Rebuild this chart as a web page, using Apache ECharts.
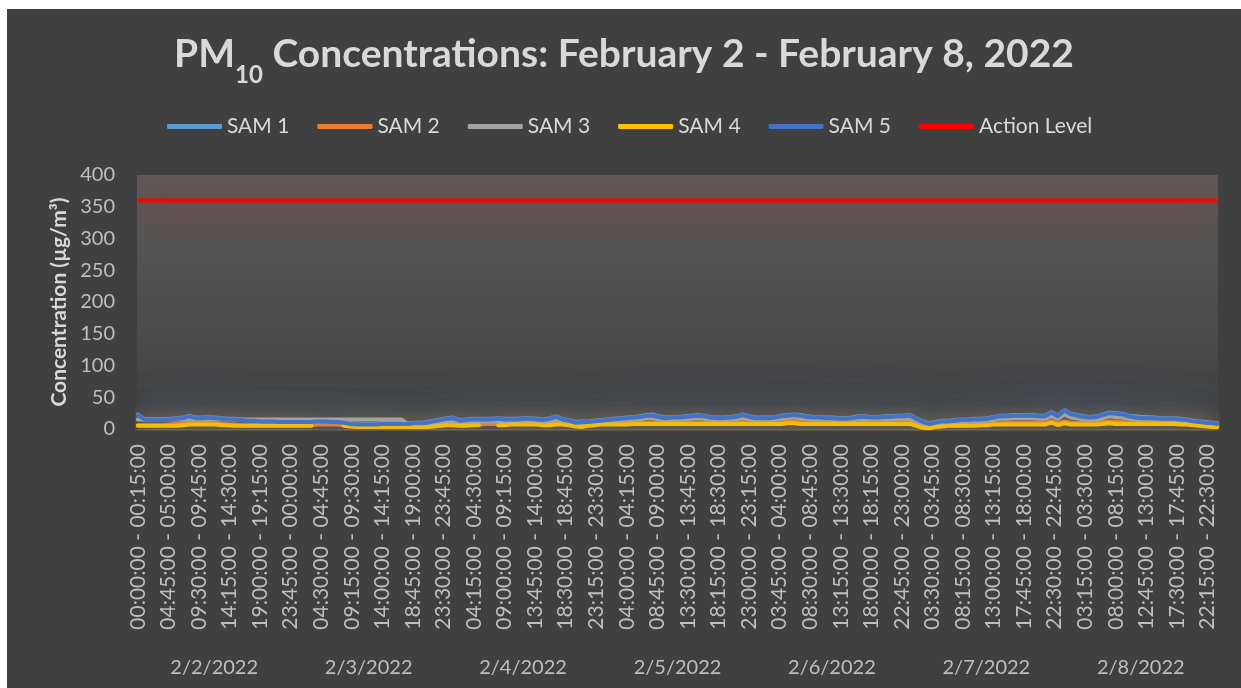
<!DOCTYPE html>
<html>
<head>
<meta charset="utf-8">
<script src="https://cdn.jsdelivr.net/npm/echarts@6/dist/echarts.min.js"></script>
<style>
  html, body { margin: 0; padding: 0; background: #fff; }
  #chart { position: absolute; left: 7px; top: 9px; width: 1234px; height: 679px; background: #404040; }
</style>
</head>
<body>
<div id="chart"></div>
<script>
const days = ['2/2/2022', '2/3/2022', '2/4/2022', '2/5/2022', '2/6/2022', '2/7/2022', '2/8/2022'];
const seriesNames = ['SAM 1', 'SAM 2', 'SAM 3', 'SAM 4', 'SAM 5', 'Action Level'];
const actionLevel = [360, 360];

// readings at the start of every hour (µg/m3), last value = final 15 min of 2/8
const sam1 = [
  23,16,15,15,15,16,17,18,21,18,18,19,18,17,16,16,15,14,14,13,13,13,12,12,
  12,12,12,12,13,13,12,12,11,9,8,8,8,8,9,9,9,9,9,10,10,11,13,15,
  17,18,14,15,16,16,16,16,17,16,16,16,17,17,16,15,17,20,16,14,11,12,12,13,
  14,15,16,17,18,19,20,22,23,20,18,19,19,20,21,22,21,19,18,18,19,20,23,20,
  18,18,18,19,21,22,23,22,20,19,19,18,18,17,17,18,20,20,19,19,20,20,21,21,
  22,17,12,9,11,13,13,14,15,15,16,16,17,19,21,21,22,22,22,22,21,21,27,21,
  30,24,22,20,19,20,23,26,25,24,21,20,19,19,18,17,17,17,16,15,13,12,11,10,
  9
];
const sam2 = [
  6,6,6,6,6,7,8,9,10,10,10,10,9,8,7,7,6,6,6,6,6,6,6,6,
  6,6,6,6,7,7,7,7,6,5,4,4,4,4,4,4,4,4,4,4,4,4,5,6,
  7,7,7,7,7,7,8,8,8,8,8,8,8,8,9,9,9,9,8,8,6,5,6,7,
  9,9,10,10,10,10,10,10,10,10,10,10,10,10,10,10,10,10,10,10,10,10,11,10,
  10,10,10,10,11,11,11,11,11,11,11,11,11,11,11,11,11,11,11,11,11,11,11,11,
  11,8,4,3,5,6,7,7,7,7,8,8,8,9,9,10,10,10,10,10,10,10,12,9,
  12,10,10,10,10,10,11,12,12,11,10,10,10,10,10,10,10,10,9,9,8,7,6,5,
  5
];
const sam3 = [
  15,15,15,15,15,15,15,15,15,15,15,15,15,15,15,15,15,15,15,15,15,15,15,15,
  15,15,15,15,15,15,15,15,15,15,15,15,15,15,15,15,15,15,7,7,7,8,9,10,
  12,13,10,11,12,12,12,12,13,12,12,12,13,13,12,11,12,15,12,10,8,8,8,9,
  10,11,12,13,14,14,15,17,17,15,14,14,14,15,16,17,16,14,14,14,14,15,18,15,
  14,14,14,15,16,17,18,17,16,15,15,14,14,13,13,14,15,15,15,15,15,15,16,16,
  16,12,7,4,6,8,9,10,11,11,12,12,13,14,16,16,17,17,17,17,16,16,20,16,
  23,18,17,15,14,15,17,20,19,18,16,15,14,14,14,13,13,13,12,11,10,9,8,7,
  6
];
const sam4 = [
  5,5,5,5,5,5,5,6,7,7,7,7,7,6,6,5,5,5,5,5,5,5,5,5,
  5,5,5,5,null,null,null,null,5,4,3,3,3,3,3,3,3,3,3,3,3,3,4,5,
  6,6,5,5,6,6,null,null,6,6,7,7,7,7,7,6,6,7,7,6,4,3,5,6,
  7,7,7,7,7,8,8,8,8,8,8,8,8,8,8,8,8,8,8,8,8,8,8,8,
  8,8,8,8,8,9,9,8,8,8,8,8,8,8,8,8,8,8,8,8,8,8,8,8,
  8,5,2,1,3,4,5,5,5,5,5,6,6,7,7,7,7,7,7,7,7,7,10,6,
  9,7,7,7,7,7,8,9,8,8,8,8,8,8,8,8,8,8,7,7,6,5,4,3,
  3
];
const sam5 = [
  22,15,14,14,14,15,16,17,20,17,17,18,17,16,15,15,14,13,13,12,12,12,11,11,
  11,11,11,11,12,12,11,11,10,8,7,7,7,7,8,8,8,8,8,9,9,10,12,14,
  16,17,13,14,15,15,15,15,16,15,15,15,16,16,15,14,16,19,15,13,10,11,11,12,
  13,14,15,16,17,18,19,21,21,19,17,18,18,19,20,21,20,18,17,17,18,19,22,19,
  17,17,17,18,20,21,22,21,19,18,18,17,17,16,16,17,19,19,18,18,19,19,20,20,
  21,16,11,8,10,12,12,13,14,14,15,15,16,18,20,20,21,21,21,21,20,20,26,20,
  29,23,21,19,18,19,22,25,24,23,20,18,17,17,17,16,16,16,15,14,12,11,10,9,
  8
];

// 15 minute interval labels for the category axis
const pad = n => String(n).padStart(2, '0');
const slots = [];
days.forEach(() => {
  for (let q = 0; q < 96; q++) {
    const a = q * 15, b = a + 15;
    slots.push(pad(Math.floor(a / 60)) + ':' + pad(a % 60) + ':00 - ' +
      pad(Math.floor(b / 60) % 24) + ':' + pad(b % 60) + ':00');
  }
});
// hourly readings sit on every 4th slot, the last one on the final slot
const steps = sam5.map((_, k) => (k < sam5.length - 1 ? k * 4 : slots.length - 1));

const font = 'Lato';
const chart = echarts.init(document.getElementById('chart'));

function samLine(name, values, color, glow, blur) {
  return {
    name: name,
    type: 'line',
    data: values.map((v, k) => [steps[k], v == null ? '-' : v]),
    symbol: 'none',
    itemStyle: { color: color },
    lineStyle: { color: color, width: 4, cap: 'round', join: 'round', shadowColor: glow, shadowBlur: blur },
  };
}

chart.setOption({
  animation: false,
  backgroundColor: '#404040',
  title: {
    left: 'center',
    top: 21,
    text: '{b|PM}{s|10}{b| Concentrations: February 2 - February 8, 2022}',
    textStyle: {
      rich: {
        b: { fontFamily: font, fontSize: 39, fontWeight: 'bold', color: '#d9d9d9', lineHeight: 47, verticalAlign: 'top' },
        s: { fontFamily: font, fontSize: 24, fontWeight: 'bold', color: '#d9d9d9', lineHeight: 24, verticalAlign: 'top', padding: [28, 0, 0, 0] },
      },
    },
  },
  legend: {
    top: 102,
    left: 155,
    icon: 'roundRect',
    itemWidth: 55,
    itemHeight: 5,
    itemGap: 28,
    data: seriesNames,
    textStyle: { color: '#d9d9d9', fontSize: 21, fontFamily: font },
  },
  grid: {
    left: 130, top: 166, right: 23, bottom: 259,
    show: true,
    borderWidth: 0,
    backgroundColor: new echarts.graphic.LinearGradient(0, 0, 0, 1, [
      { offset: 0, color: '#5b5b5b' },
      { offset: 1, color: '#404040' },
    ]),
  },
  xAxis: [
    {
      type: 'category',
      data: slots,
      axisLine: { show: true, lineStyle: { color: '#595959' } },
      axisTick: { show: false },
      axisLabel: { interval: 18, rotate: 90, color: '#bfbfbf', fontSize: 21, fontFamily: font, margin: 15 },
    },
    {
      type: 'category',
      data: days,
      position: 'bottom',
      offset: 229,
      axisLine: { show: false },
      axisTick: { show: false },
      axisLabel: { color: '#bfbfbf', fontSize: 20, fontFamily: font, margin: 0 },
    },
  ],
  yAxis: {
    type: 'value',
    min: 0,
    max: 400,
    interval: 50,
    name: 'Concentration (µg/m³)',
    nameLocation: 'middle',
    nameGap: 66,
    nameTextStyle: { color: '#d9d9d9', fontSize: 21, fontWeight: 'bold', fontFamily: font },
    axisLine: { show: false },
    axisTick: { show: false },
    splitLine: { show: false },
    axisLabel: { color: '#bfbfbf', fontSize: 20, fontFamily: font, margin: 22 },
  },
  series: [
    samLine('SAM 1', sam1, '#5b9bd5', 'rgba(91,155,213,0.7)', 40),
    samLine('SAM 2', sam2, '#ed7d31', 'rgba(237,125,49,0.5)', 20),
    samLine('SAM 3', sam3, '#a5a5a5', 'rgba(165,165,165,0.6)', 24),
    samLine('SAM 4', sam4, '#ffc000', 'rgba(255,192,0,0.5)', 16),
    samLine('SAM 5', sam5, '#4472c4', 'rgba(68,114,196,0.7)', 40),
    {
      name: 'Action Level',
      type: 'line',
      data: [[0, actionLevel[0]], [slots.length - 1, actionLevel[1]]],
      symbol: 'none',
      itemStyle: { color: '#ff0000' },
      lineStyle: { color: '#ff0000', width: 4, shadowColor: 'rgba(255,0,0,0.9)', shadowBlur: 44 },
    },
  ],
});
</script>
</body>
</html>
